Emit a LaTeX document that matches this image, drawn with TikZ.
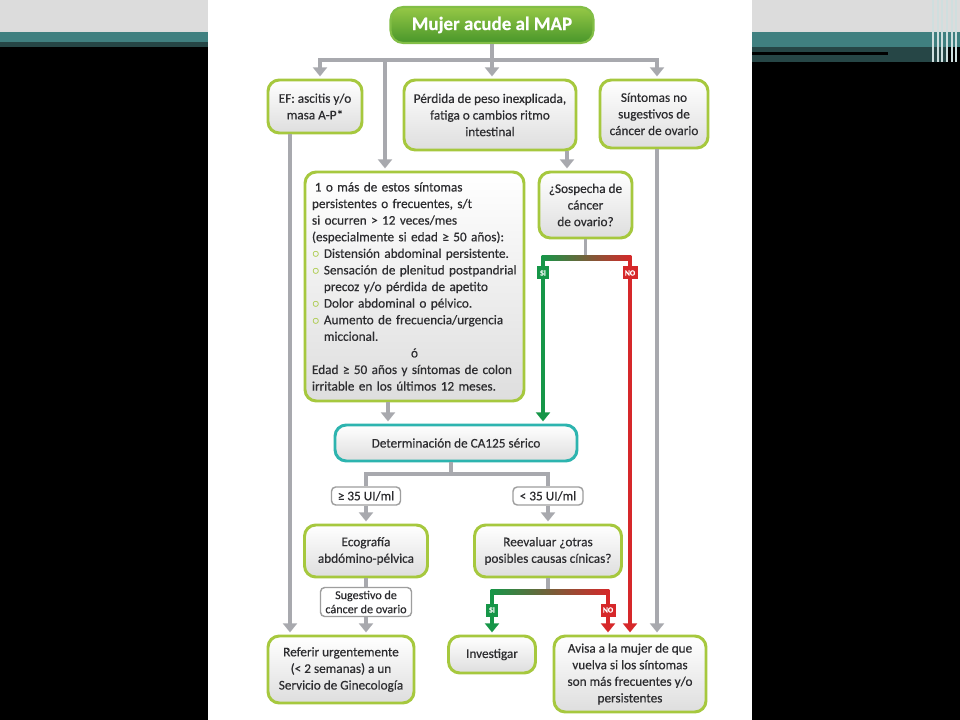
\documentclass[tikz,border=0pt]{standalone}
\usepackage{fontspec}
\setmainfont{Carlito}[FakeBold=0.5]
\usetikzlibrary{arrows.meta}
\definecolor{conngray}{RGB}{168,169,174}
\definecolor{boxgreen}{RGB}{166,200,62}
\definecolor{cateal}{RGB}{45,180,175}
\definecolor{txtgray}{RGB}{45,45,48}
\definecolor{sigreen}{RGB}{22,150,72}
\definecolor{nored}{RGB}{214,40,42}
\definecolor{barmid}{RGB}{200,210,40}
\definecolor{maptop}{RGB}{150,200,70}
\definecolor{mapbot}{RGB}{72,150,42}
\definecolor{mapedge}{RGB}{130,190,70}
\definecolor{slgray}{RGB}{220,220,220}
\definecolor{slteal}{RGB}{64,128,128}
\definecolor{sldark}{RGB}{38,70,70}
\newlength{\pxu}\setlength{\pxu}{0.025cm}
\newcommand{\fsz}{\fontsize{9.4}{11.8}\selectfont}
\newcommand{\bul}{\textcolor{boxgreen}{\boldmath$\circ$}\ }
\tikzset{
  box/.style={draw=boxgreen,line width=2.1pt,rounded corners=8pt,top color=white,bottom color=black!13,
    text=txtgray,align=center,inner sep=0pt,font=\fsz},
  mapbox/.style={draw=mapedge,line width=1.5pt,rounded corners=9pt,top color=maptop,bottom color=mapbot,
    text=white,font=\fontsize{13.5}{15}\selectfont\bfseries,inner sep=0pt},
  tagbox/.style={draw=black!38,line width=1pt,rounded corners=3pt,fill=white,text=txtgray,align=center,
    inner sep=0pt,font=\fsz},
  conn/.style={draw=conngray,line width=2.8pt,-{Triangle[length=6.5pt,width=10pt]},shorten >=1.5pt},
  plain/.style={draw=conngray,line width=2.8pt},
  sitag/.style={fill=sigreen,text=white,font=\fontsize{5.5}{6}\selectfont\bfseries,inner sep=0pt,
    minimum width=12\pxu,minimum height=13\pxu},
  notag/.style={sitag,fill=nored,minimum width=15\pxu},
}
\begin{document}
\begin{tikzpicture}[x=0.025cm,y=-0.025cm]
\useasboundingbox (0,0) rectangle (960,720);
% slide behind the page
\fill[black](0,0)rectangle(960,720);
\fill[slgray](0,0)rectangle(960,32);
\fill[slteal](0,32)rectangle(960,42);
\fill[sldark](0,42)rectangle(208,47);
\fill[slteal](752,42)rectangle(960,47);
\fill[sldark](752,47)rectangle(948,62);
\fill[black](752,52)rectangle(888,55);
\foreach \x in {932,937,941,946,951,955}{\fill[white!75!slteal](\x,0)rectangle(\x+1.6,62);}
\fill[white](208,0)rectangle(752,720);

% boxes
\node[mapbox,minimum width=203\pxu,minimum height=36\pxu] (map) at (492,25) {Mujer acude al MAP};
\node[box,minimum width=94\pxu,minimum height=53\pxu] (ef) at (315,106.5) {EF: ascitis y/o\\masa A-P*};
\node[box,minimum width=172\pxu,minimum height=70\pxu] (perd) at (490,115)
  {Pérdida de peso inexplicada,\\fatiga o cambios ritmo\\intestinal};
\node[box,minimum width=108\pxu,minimum height=68\pxu] (nosug) at (654,114)
  {Síntomas no\\sugestivos de\\cáncer de ovario};
\node[box,align=left,text width=205\pxu,inner xsep=7\pxu,minimum height=229\pxu] (sint) at (414.5,286.5)
  {\hspace{2pt}1 o más de estos síntomas\\
   persistentes o frecuentes, s/t\\
   si ocurren > 12 veces/mes\\
   (especialmente si edad ≥ 50 años):\\
   \bul Distensión abdominal persistente.\\
   \bul Sensación de plenitud postpandrial\\
   \phantom{\bul}precoz y/o pérdida de apetito\\
   \bul Dolor abdominal o pélvico.\\
   \bul Aumento de frecuencia/urgencia\\
   \phantom{\bul}miccional.\\
   \makebox[\linewidth]{ó}\\
   Edad ≥ 50 años y síntomas de colon\\
   irritable en los últimos 12 meses.};
\node[box,minimum width=93\pxu,minimum height=66\pxu] (sosp) at (585.5,205) {¿Sospecha de\\cáncer\\de ovario?};
\node[box,draw=cateal,minimum width=242\pxu,minimum height=36\pxu] (ca) at (456,443) {Determinación de CA125 sérico};
\node[tagbox,minimum width=69\pxu,minimum height=18\pxu] (ge) at (366,496) {≥ 35 UI/ml};
\node[tagbox,minimum width=70\pxu,minimum height=18\pxu] (lt) at (548,496) {< 35 UI/ml};
\node[box,minimum width=123\pxu,minimum height=52\pxu] (eco) at (366,551) {Ecografía\\abdómino-pélvica};
\node[box,minimum width=147\pxu,minimum height=52\pxu] (reev) at (548,551) {Reevaluar ¿otras\\posibles causas cínicas?};
\node[tagbox,minimum width=91\pxu,minimum height=29\pxu,font=\fontsize{8.6}{10}\selectfont] (sug) at (366,602)
  {Sugestivo de\\cáncer de ovario};
\node[box,minimum width=146\pxu,minimum height=67\pxu] (ref) at (341,669.5)
  {Referir urgentemente\\(< 2 semanas) a un\\Servicio de Ginecología};
\node[box,minimum width=87\pxu,minimum height=37\pxu] (inv) at (492,654.5) {Investigar};
\node[box,minimum width=152\pxu,minimum height=76\pxu] (avisa) at (630,674)
  {Avisa a la mujer de que\\vuelva si los síntomas\\son más frecuentes y/o\\persistentes};

% connectors
\coordinate (top) at (492,60);
\coordinate (tl) at (320,60);
\coordinate (tr) at (657,60);
\coordinate (sx) at (385,60);
\coordinate (ex) at (290,0);
\coordinate (px) at (567,0);
\coordinate (cx) at (388,0);
\draw[plain] (map.south) -- (top);
\draw[conn] (top) -| (tl |- ef.north);
\draw[conn] (top) -| (tr |- nosug.north);
\draw[conn] (top) -- (top |- perd.north);
\draw[conn] (sx) -- (sx |- sint.north);
\draw[conn] (ex |- ef.south) -- (ex |- ref.north);
\draw[conn] (px |- perd.south) -- (px |- sosp.north);
\draw[conn] (tr |- nosug.south) -- (tr |- avisa.north);
\draw[conn] (cx |- sint.south) -- (cx |- ca.north);

% si / no after the suspicion
\coordinate (sia) at (543,258);
\coordinate (noa) at (630,258);
\draw[plain] (sosp.south) -- (sosp.south |- sia);
\draw[conn,draw=sigreen] (sia) -- (sia |- ca.north);
\draw[conn,draw=nored] (noa) -- (noa |- avisa.north);
\shade[left color=sigreen,middle color=barmid,right color=nored] ([shift={(-1.4,-2.2)}]sia) rectangle ([shift={(1.4,2.2)}]noa);
\node[sitag] (si1) at (543,273) {SI};
\node[notag] (no1) at (630,273) {NO};

% CA125 branches
\coordinate (cab) at (451,474);
\draw[plain] (cab |- ca.south) -- (cab);
\draw[plain] (cab) -| (ge.north);
\draw[plain] (cab) -| (lt.north);
\draw[conn] (ge.south) -- (eco.north);
\draw[conn] (lt.south) -- (reev.north);
\draw[plain] (eco.south) -- (sug.north);
\draw[conn] (sug.south) -- (sug.south |- ref.north);

% si / no after re-evaluation
\coordinate (sib) at (492,592);
\coordinate (nob) at (608,592);
\draw[plain] (reev.south) -- (reev.south |- sib);
\draw[conn,draw=sigreen] (sib) -- (inv.north);
\draw[conn,draw=nored] (nob) -- (nob |- avisa.north);
\shade[left color=sigreen,middle color=barmid,right color=nored] ([shift={(-1.4,-2.2)}]sib) rectangle ([shift={(1.4,2.2)}]nob);
\node[sitag] (si2) at (492,610) {SI};
\node[notag] (no2) at (608,610) {NO};
\end{tikzpicture}
\end{document}
